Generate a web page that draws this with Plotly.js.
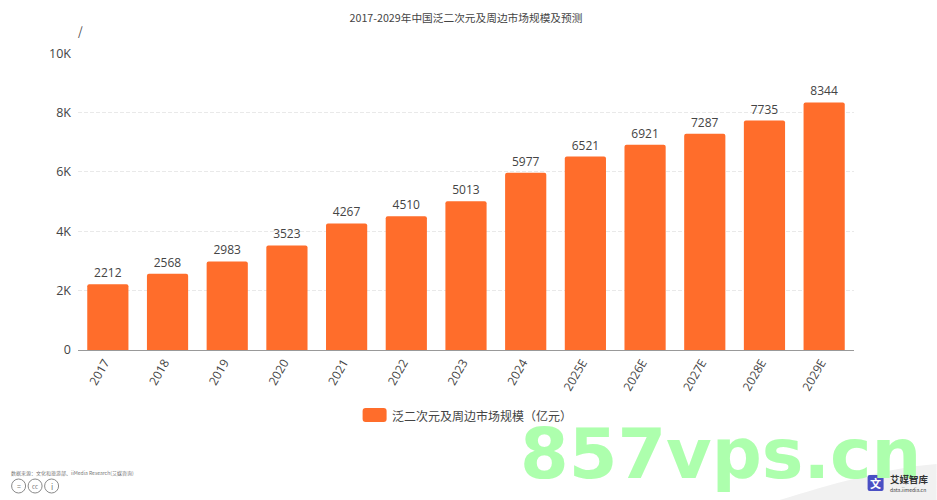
<!DOCTYPE html>
<html><head><meta charset="utf-8">
<script src="https://cdn.plot.ly/plotly-3.0.1.min.js"></script>
<style>html,body{margin:0;padding:0;background:#fff}</style></head>
<body><div id="c" style="width:937px;height:500px"></div>
<script>
const categories=['2017','2018','2019','2020','2021','2022','2023','2024','2025E','2026E','2027E','2028E','2029E'];
const marketSize=[2212,2568,2983,3523,4267,4510,5013,5977,6521,6921,7287,7735,8344];
const tickValues=[0,2000,4000,6000,8000,10000];
const tickLabels=['0','2K','4K','6K','8K','10K'];
const seriesName='泛二次元及周边市场规模（亿元）';
const chartTitle='2017-2029年中国泛二次元及周边市场规模及预测';
const sourceNote='数据来源：文化和旅游部、iiMedia Research(艾媒咨询)';
const FONT='"Noto Sans CJK SC","Open Sans",sans-serif';
const W=937,H=500,L=78.4,R=854.4,T=53,B=350;
const px=x=>(x-L)/(R-L), py=y=>(B-y)/(B-T);
function roundBox(x0,y0,x1,y1,r,o){const P=(x,y)=>`${px(x)} ${py(y)}`;return Object.assign({type:'path',xref:'paper',yref:'paper',layer:'above',
 path:`M ${P(x0+r,y0)} L ${P(x1-r,y0)} Q ${P(x1,y0)} ${P(x1,y0+r)} L ${P(x1,y1-r)} Q ${P(x1,y1)} ${P(x1-r,y1)} L ${P(x0+r,y1)} Q ${P(x0,y1)} ${P(x0,y1-r)} L ${P(x0,y0+r)} Q ${P(x0,y0)} ${P(x0+r,y0)} Z`},o);}
function circ(x,y,r){return {type:'circle',xref:'paper',yref:'paper',x0:px(x-r),x1:px(x+r),y0:py(y+r),y1:py(y-r),line:{color:'#8a8a8a',width:1},fillcolor:'rgba(0,0,0,0)'};}
function note(x,y,text,size,color,anchor,extra){return Object.assign({xref:'paper',yref:'paper',x:px(x),y:py(y),text,showarrow:false,xanchor:anchor||'left',yanchor:'middle',font:{size,color,family:FONT}},extra||{});}
const trace={type:'bar',x:categories,y:marketSize,name:seriesName,text:marketSize.map(String),textposition:'outside',cliponaxis:false,
 textfont:{size:12,color:'#444',family:'"Open Sans",sans-serif'},marker:{color:'#ff6d2b',cornerradius:2,line:{width:0}},showlegend:false,hoverinfo:'x+y'};
const layout={width:W,height:H,margin:{l:L,r:W-R,t:T,b:H-B},paper_bgcolor:'#fff',plot_bgcolor:'rgba(0,0,0,0)',bargap:0.31,showlegend:false,
 font:{family:FONT,color:'#444'},
 title:{text:chartTitle,font:{size:10.7,color:'#444',family:FONT},x:468.5/W,xref:'paper',xanchor:'center',y:1-18/H,yref:'container',yanchor:'middle'},
 xaxis:{type:'category',tickangle:-60,ticklabelshift:-3,tickfont:{size:12,color:'#444',family:'"Open Sans",sans-serif'},showline:true,linecolor:'#999',linewidth:1,showgrid:false,ticks:'',ticklen:0},
 yaxis:{range:[0,10010],tickvals:tickValues,ticktext:tickLabels,tickfont:{size:12.5,color:'#444',family:'"Open Sans",sans-serif'},showgrid:true,gridcolor:'#e9e9e9',griddash:'4px,2px',gridwidth:1,zeroline:false,showline:false,ticks:'',ticklabelstandoff:6},
 shapes:[
  {type:'path',xref:'paper',yref:'paper',path:`M ${px(780)} ${py(500)} C ${px(830)} ${py(485)}, ${px(885)} ${py(468)}, ${px(937)} ${py(464)} L ${px(937)} ${py(500)} Z`,fillcolor:'#f1f1f1',line:{width:0},layer:'below'},
  roundBox(363,408,387,422,3,{fillcolor:'#ff6d2b',line:{width:0}}),
  circ(19,486,7),circ(35.5,486,7),circ(52,486,7),
  roundBox(868,475,884,491,2,{fillcolor:'#4a4fc4',line:{width:0}})
 ],
 annotations:[
  note(76,31,'/',12,'#444','left'),
  note(390,415,seriesName,12,'#444','left'),
  note(9,473,sourceNote,5,'#777','left'),
  note(19,486,'=',7,'#777','center'),note(35.5,486,'cc',6,'#777','center'),note(52,486,'i',8,'#777','center'),
  note(721,454,'<b>857vps.cn</b>',70,'#adffad','center',{font:{size:70,color:'#adffad',family:'"DejaVu Sans",sans-serif'}}),
  note(876,483,'<b>文</b>',11,'#fff','center'),
  note(888,479,'<b>艾媒智库</b>',9.5,'#333','left'),
  note(888,489,'data.iimedia.cn',5,'#444','left')
 ]};
Plotly.newPlot('c',[trace],layout,{displayModeBar:false,staticPlot:true});
</script></body></html>
